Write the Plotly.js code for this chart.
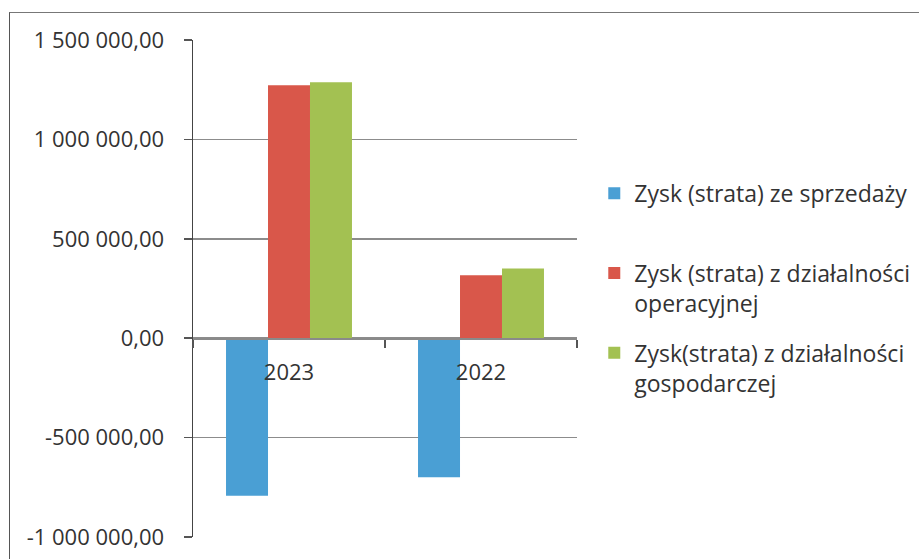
<!DOCTYPE html>
<html>
<head>
<meta charset="utf-8">
<script src="https://cdn.plot.ly/plotly-3.0.1.min.js"></script>
<style>
  html, body { margin: 0; padding: 0; background: #fff; }
  #wrap { position: relative; width: 919px; height: 559px; overflow: hidden; }
  #chart { width: 919px; height: 559px; }
  #frame { position: absolute; left: 9px; top: 12px; width: 940px; height: 600px;
           border-left: 1.5px solid #555; border-top: 1.5px solid #777; pointer-events: none; }
</style>
</head>
<body>
<div id="wrap">
  <div id="chart"></div>
  <div id="frame"></div>
</div>
<script>
const categories = ['2023', '2022'];
const seriesNames = [
  'Zysk (strata) ze sprzedaży<br> ',
  'Zysk (strata) z działalności<br>operacyjnej',
  'Zysk(strata) z działalności<br>gospodarczej'
];
const zyskSprzedaz = [-793000, -700000];
const zyskOperacyjny = [1272000, 317000];
const zyskGospodarczy = [1288000, 350000];
const yTickVals = [-1000000, -500000, 0, 500000, 1000000, 1500000];
const yTickText = ['-1 000 000,00', '-500 000,00', '0,00', '500 000,00', '1 000 000,00', '1 500 000,00'];

const colors = ['#4a9fd4', '#d9574a', '#a3c152'];
const series = [zyskSprzedaz, zyskOperacyjny, zyskGospodarczy];
const FONT = '"Open Sans", Lato, sans-serif';

const traces = series.map((vals, i) => ({
  type: 'bar',
  x: categories,
  y: vals,
  name: seriesNames[i],
  legendgroup: 'g' + i,
  marker: { color: colors[i], line: { width: 0 } },
  hoverinfo: 'x+y+name'
}));

const layout = {
  width: 919,
  height: 559,
  paper_bgcolor: '#ffffff',
  plot_bgcolor: '#ffffff',
  margin: { l: 193, r: 342, t: 40, b: 22, pad: 0, autoexpand: false },
  barmode: 'group',
  bargap: 0.344,
  bargroupgap: 0,
  font: { family: FONT, size: 22, color: '#333333' },
  showlegend: true,
  legend: {
    x: 1.045, xanchor: 'left',
    y: 0.735, yanchor: 'top',
    valign: 'top',
    tracegroupgap: 17,
    font: { family: FONT, size: 23, color: '#333333' },
    itemwidth: 30,
    bgcolor: 'rgba(0,0,0,0)'
  },
  xaxis: {
    type: 'category',
    anchor: 'free',
    position: 0.4,
    showline: true,
    linecolor: '#8a8a8a',
    linewidth: 1.5,
    ticks: 'outside',
    tickson: 'boundaries',
    ticklen: 8,
    tickcolor: '#555555',
    tickwidth: 1.5,
    showgrid: false,
    zeroline: false,
    tickfont: { family: FONT, size: 22, color: '#333333' },
    ticklabelstandoff: 14
  },
  yaxis: {
    range: [-1000000, 1500000],
    tickmode: 'array',
    tickvals: yTickVals,
    ticktext: yTickText,
    showline: true,
    linecolor: '#444444',
    linewidth: 1.5,
    ticks: 'outside',
    ticklen: 8,
    tickcolor: '#555555',
    tickwidth: 1.5,
    showgrid: true,
    gridcolor: '#8c8c8c',
    gridwidth: 1.5,
    zeroline: false,
    tickfont: { family: FONT, size: 22, color: '#333333' },
    ticklabelstandoff: 15
  }
};

Plotly.newPlot('chart', traces, layout, { displayModeBar: false, staticPlot: true });
</script>
</body>
</html>
